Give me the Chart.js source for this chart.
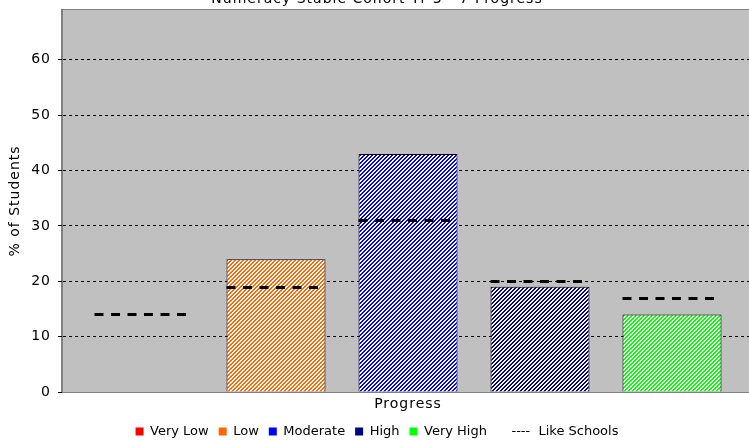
<!DOCTYPE html>
<html>
<head>
<meta charset="utf-8">
<script src="https://cdn.jsdelivr.net/npm/chart.js@4/dist/chart.umd.min.js"></script>
<style>
  html, body { margin: 0; padding: 0; background: #fff; overflow: hidden; width: 749px; height: 441px; }
  #wrap { position: absolute; left: 0; top: -10px; width: 755px; height: 458px; }
</style>
</head>
<body>
<div id="wrap"><canvas id="c" width="755" height="458"></canvas></div>
<script>
const titleText = 'Numeracy Stable Cohort Yr 3 - 7 Progress';
const categories = ['Very Low', 'Low', 'Moderate', 'High', 'Very High'];
const students = [0, 24, 43, 19, 14];
const likeSchools = [14, 19, 31, 20, 17];
const likeLabel = 'Like Schools';
const yTicks = [0, 10, 20, 30, 40, 50, 60];
const colors = ['#FF0000', '#FF6600', '#0000FF', '#000080', '#00FF00'];

function hatch(color) {
  const p = document.createElement('canvas');
  p.width = 4; p.height = 4;
  const g = p.getContext('2d');
  g.fillStyle = '#FFFFFF';
  g.fillRect(0, 0, 4, 4);
  g.fillStyle = color;
  for (let x = 0; x < 4; x++) for (let y = 0; y < 4; y++) {
    if ((x + y) % 4 < 2) g.fillRect(x, y, 1, 1);
  }
  return document.getElementById('c').getContext('2d').createPattern(p, 'repeat');
}

const FONT = "'DejaVu Sans', Verdana, sans-serif";
const SPACING = '1px';

// wider letter spacing for axis text, plain spacing for the legend
const spacing = {
  id: 'spacing',
  beforeLayout(chart) {
    chart.ctx.letterSpacing = SPACING;
    const lg = chart.legend;
    if (lg && !lg._wrapped) {
      lg._wrapped = true;
      const f = lg.fit.bind(lg), d = lg.draw.bind(lg);
      lg.fit = function () { const c = chart.ctx; const o = c.letterSpacing; c.letterSpacing = '0px'; f(); c.letterSpacing = o; };
      lg.draw = function () { const c = chart.ctx; const o = c.letterSpacing; c.letterSpacing = '0px'; d(); c.letterSpacing = o; };
    }
  },
  beforeDraw(chart) { chart.ctx.letterSpacing = SPACING; }
};

const plotBg = {
  id: 'plotBg',
  beforeDraw(chart) {
    const {ctx, chartArea: a} = chart;
    ctx.save();
    ctx.fillStyle = '#C0C0C0';
    ctx.fillRect(a.left, a.top, a.right - a.left, a.bottom - a.top);
    ctx.strokeStyle = '#808080';
    ctx.lineWidth = 1;
    ctx.strokeRect(a.left - 0.5, a.top - 0.5, a.right - a.left + 1, a.bottom - a.top + 1);
    ctx.restore();
  }
};

const likeLines = {
  id: 'likeLines',
  afterDatasetsDraw(chart) {
    const {ctx} = chart;
    const ys = chart.scales.y;
    ctx.save();
    ctx.strokeStyle = '#000';
    ctx.lineWidth = 3;
    ctx.setLineDash([9, 7.5]);
    likeSchools.forEach((v, i) => {
      const el = chart.getDatasetMeta(i).data[0];
      if (!el) return;
      const y = Math.round(ys.getPixelForValue(v)) + 0.5;
      ctx.beginPath();
      ctx.moveTo(el.x - el.width / 2, y);
      ctx.lineTo(el.x + el.width / 2, y);
      ctx.stroke();
    });
    ctx.restore();
  }
};

const datasets = categories.map((c, i) => ({
  label: c,
  data: [students[i]],
  backgroundColor: hatch(colors[i]),
  borderColor: '#000',
  borderWidth: ctx => (ctx.raw === 0 ? 0 : 1),
  categoryPercentage: 660 / 692,
  barPercentage: 0.75
}));

new Chart(document.getElementById('c'), {
  type: 'bar',
  data: { labels: ['Progress'], datasets },
  options: {
    responsive: false,
    animation: false,
    events: [],
    layout: { padding: { left: 0, right: 1, top: 0, bottom: 0 } },
    plugins: {
      title: {
        display: true,
        text: titleText,
        color: '#000',
        font: { family: FONT, size: 14, weight: 'normal' },
        padding: { top: 1.3, bottom: 1.9 }
      },
      legend: {
        position: 'bottom',
        labels: {
          color: '#000',
          font: { family: FONT, size: 13 },
          boxWidth: 8,
          boxHeight: 8,
          padding: 10,
          generateLabels: () => {
            const items = categories.map((c, i) => ({
              text: c, fillStyle: colors[i], strokeStyle: colors[i], lineWidth: 0, hidden: false, datasetIndex: i
            }));
            items.push({ text: '----  ' + likeLabel, fillStyle: 'rgba(0,0,0,0)', strokeStyle: 'rgba(0,0,0,0)', lineWidth: 0, hidden: false });
            return items;
          }
        }
      },
      tooltip: { enabled: false }
    },
    scales: {
      x: {
        grid: { display: false, drawTicks: false },
        ticks: { display: false },
        border: { display: true, color: '#808080', width: 1 },
        title: {
          display: true, text: 'Progress', color: '#000',
          font: { family: FONT, size: 14 },
          padding: { top: 3.6, bottom: 2.6 }
        }
      },
      y: {
        min: 0,
        max: 69,
        afterBuildTicks: axis => { axis.ticks = yTicks.map(v => ({ value: v })); },
        afterFit: axis => { axis.width = 62; },
        ticks: { color: '#000', font: { family: FONT, size: 14 }, padding: 7 },
        grid: {
          color: ctx => (ctx.tick && ctx.tick.value === 0 ? 'rgba(0,0,0,0)' : '#000'),
          lineWidth: 1,
          tickLength: 4,
          drawTicks: true,
          tickColor: '#000'
        },
        border: { display: true, color: '#808080', width: 1, dash: [3, 3] },
        title: {
          display: true, text: '% of Students', color: '#000',
          font: { family: FONT, size: 14 },
          padding: { top: 7.1, bottom: 0 }
        }
      }
    }
  },
  plugins: [spacing, plotBg, likeLines]
});
</script>
</body>
</html>
